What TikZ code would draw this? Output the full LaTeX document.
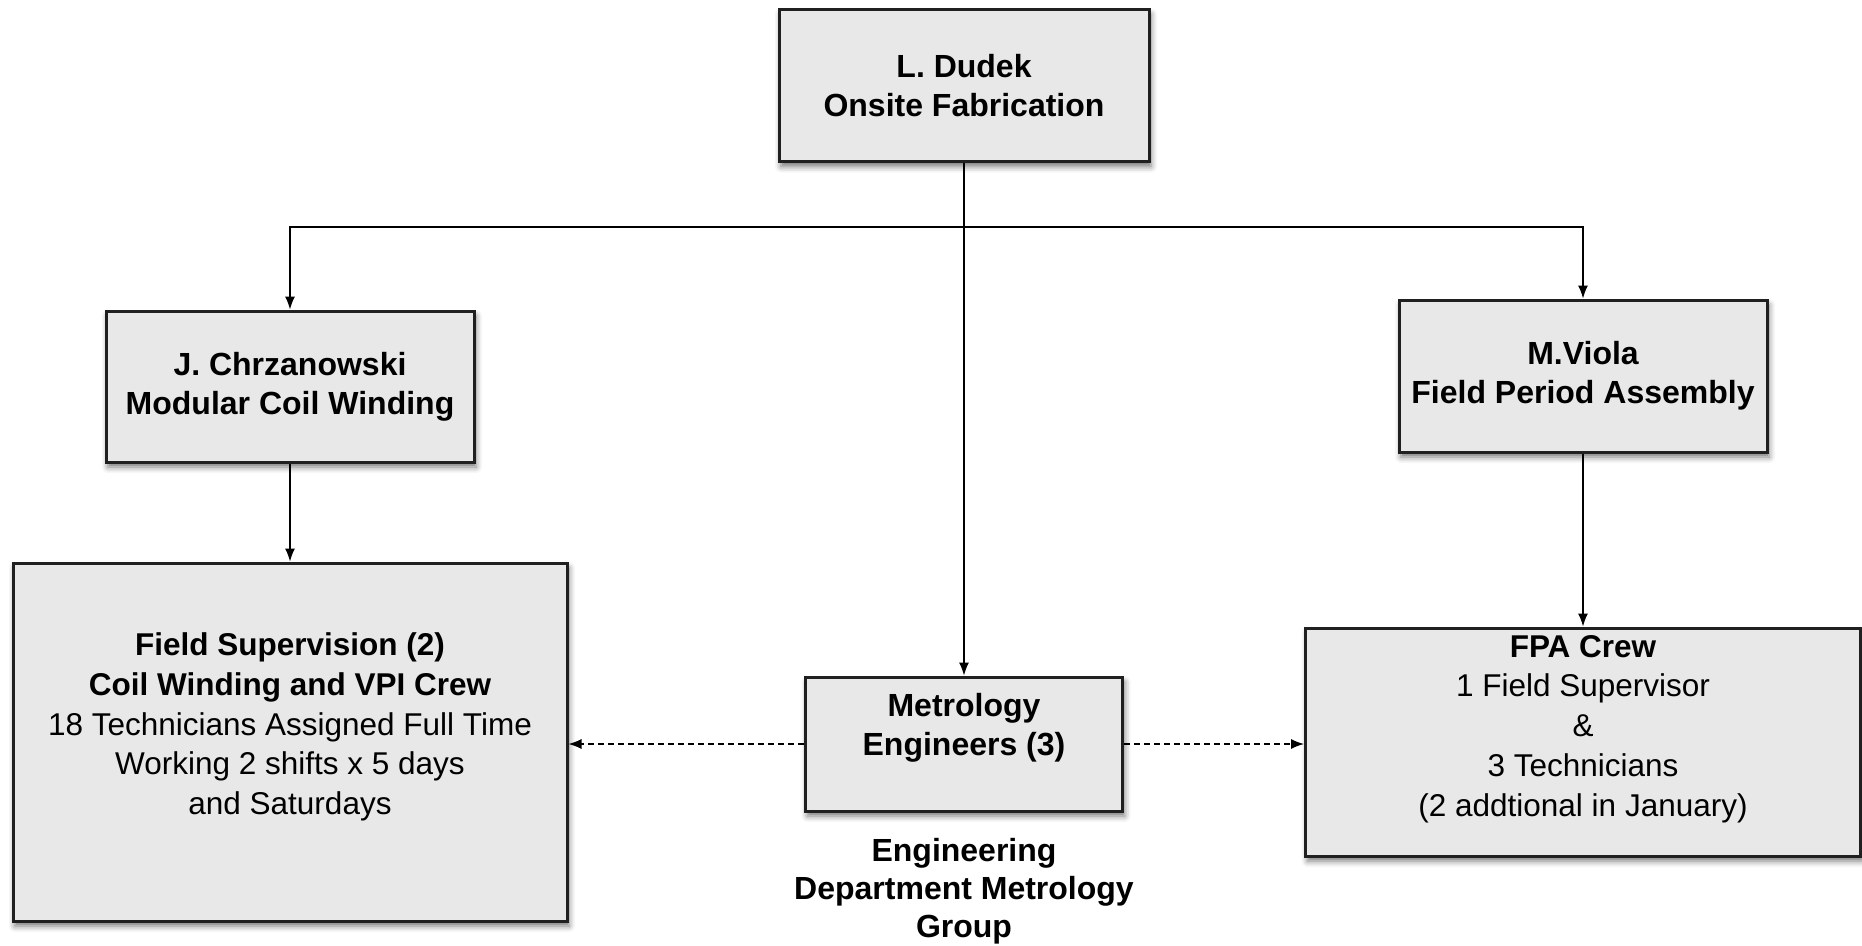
\documentclass[tikz,border=0pt]{standalone}
\usepackage{fontspec}
\setmainfont{Liberation Sans}
\usetikzlibrary{arrows.meta,shadows.blur}
\definecolor{boxfill}{HTML}{E8E8E8}
\definecolor{boxline}{HTML}{202020}
\begin{document}
\begin{tikzpicture}[x=1pt,y=-1pt,
  orgbox/.style={draw=boxline, line width=3pt, fill=boxfill, inner sep=0pt,
    blur shadow={shadow xshift=2pt, shadow yshift=-5pt, shadow blur radius=6pt, shadow opacity=55},
    align=center, font=\fontsize{32}{39}\selectfont\bfseries},
  txt/.style={align=center, inner sep=0pt, font=\fontsize{31.5}{39.8}\selectfont},
  conn/.style={line width=1.3pt, -{Latex[length=13pt,width=10pt]}},
  dconn/.style={line width=1.2pt, dash pattern=on 6pt off 4pt, -{Latex[length=13pt,width=10pt]}}
]
\useasboundingbox (0,0) rectangle (1862,945);

\node[orgbox, minimum width=370pt, minimum height=152pt] (dudek) at (964,85.5)
  {L. Dudek\\Onsite Fabrication};
\node[orgbox, minimum width=368pt, minimum height=151pt] (chrz) at (290,386.5)
  {J. Chrzanowski\\Modular Coil Winding};
\node[orgbox, minimum width=368pt, minimum height=152pt] (viola) at (1583,376)
  {M.Viola\\Field Period Assembly};
\node[orgbox, minimum width=554pt, minimum height=358pt] (fs) at (290,742) {};
\node[orgbox, minimum width=317pt, minimum height=134pt] (metro) at (964,744) {};
\node[orgbox, minimum width=555pt, minimum height=228pt] (fpa) at (1583,742) {};

\node[txt] (fs-t) at (290,727) {\textbf{Field Supervision (2)}\\\textbf{Coil Winding and VPI Crew}\\18 Technicians Assigned Full Time\\Working 2 shifts x 5 days\\and Saturdays};
\node[txt, font=\fontsize{32}{39}\selectfont\bfseries] (metro-t) at (964,728) {Metrology\\Engineers (3)};
\node[txt] (fpa-t) at (1583,729) {\textbf{FPA Crew}\\1 Field Supervisor\\\&\\3 Technicians\\(2 addtional in January)};
\node[txt, font=\fontsize{32}{38}\selectfont\bfseries] (eng) at (964,891) {Engineering\\Department Metrology\\Group};

\coordinate (J) at (964,227);
\draw[conn] (dudek.south) -- (metro.north);
\draw[conn] (J) -| (chrz.north);
\draw[conn] (J) -| (viola.north);
\draw[conn] (chrz.south) -- (fs.north);
\draw[conn] (viola.south) -- (fpa.north);
\draw[dconn] (metro.west) -- (metro.west -| fs.east);
\draw[dconn] (metro.east) -- (metro.east -| fpa.west);
\end{tikzpicture}
\end{document}
